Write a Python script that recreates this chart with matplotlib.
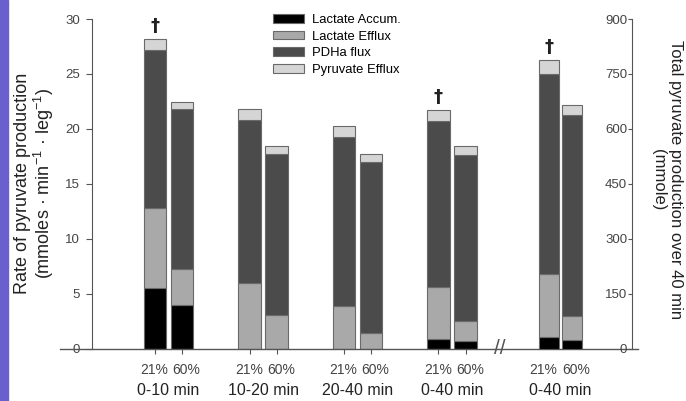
import numpy as np
import matplotlib
matplotlib.use('Agg')
import matplotlib.pyplot as plt
from matplotlib.patches import Patch, Rectangle
from matplotlib.transforms import blended_transform_factory

plt.rcParams['font.family'] = ['Liberation Sans', 'DejaVu Sans']
plt.rcParams['mathtext.fontset'] = 'custom'
plt.rcParams['mathtext.rm'] = 'Liberation Sans'
plt.rcParams['mathtext.it'] = 'Liberation Sans:italic'

# rate of pyruvate production (mmoles/min/leg), bars ordered 21%, 60% per period
groups = ['0-10 min', '10-20 min', '20-40 min', '0-40 min']
conditions = ['21%', '60%']
lactate_accum = [5.47, 4.0, 0, 0, 0, 0, 0.86, 0.68]
lactate_efflux = [7.28, 3.23, 5.98, 3.05, 3.86, 1.38, 4.7, 1.82]
pdha_flux = [14.41, 14.57, 14.79, 14.65, 15.44, 15.62, 15.14, 15.1]
pyruvate_efflux = [1.0, 0.64, 1.0, 0.7, 1.0, 0.7, 1.05, 0.8]
rate_dagger = [True, False, False, False, False, False, True, False]

# total pyruvate production over 40 min (mmole), right axis
total_group = '0-40 min'
total_lactate_accum = [32, 23]
total_lactate_efflux = [171, 66]
total_pdha_flux = [547, 549]
total_pyruvate_efflux = [38, 27]
total_dagger = [True, False]

components = ['Lactate Accum.', 'Lactate Efflux', 'PDHa flux', 'Pyruvate Efflux']
colors = ['#000000', '#a9a9a9', '#4b4b4b', '#d5d5d5']
edge = '#6a6a6a'

W, H = 686, 401
fig = plt.figure(figsize=(W / 100, H / 100), dpi=100)
fig.patches.append(Rectangle((0, 0), 7.5 / W, 1, transform=fig.transFigure,
                             color='#6a5fce', zorder=0))

ax = fig.add_axes([92 / W, 1 - 348.5 / H, 540 / W, 329.5 / H])
ax.set_xlim(-0.81, 4.905)
ax.set_ylim(0, 30)

group_pos = np.arange(len(groups))
total_pos = 4.15
off = 0.143
width = 0.235
rate_x = np.repeat(group_pos, 2) + np.tile([-off, off], len(groups))
rate_label_x = np.repeat(group_pos, 2) + np.tile([-0.15, 0.19], len(groups))
total_x = total_pos + np.array([-off * 0.85, off * 0.85])
total_label_x = total_pos + np.array([-0.185, 0.165])

rate_parts = [lactate_accum, lactate_efflux, pdha_flux, pyruvate_efflux]
total_parts = [total_lactate_accum, total_lactate_efflux, total_pdha_flux, total_pyruvate_efflux]

bottom = np.zeros(len(rate_x))
for vals, c in zip(rate_parts, colors):
    ax.bar(rate_x, vals, width, bottom=bottom, color=c, edgecolor=edge, linewidth=0.8, zorder=3)
    bottom += np.array(vals)
for x, top, d in zip(rate_x, bottom, rate_dagger):
    if d:
        ax.text(x, top + 0.35, '\u2020', ha='center', va='bottom', fontsize=13,
                fontweight='bold', color='#222222', family=['DejaVu Sans'])

ax2 = ax.twinx()
ax2.set_ylim(0, 900)
tbottom = np.zeros(2)
for vals, c in zip(total_parts, colors):
    ax2.bar(total_x, vals, width * 0.9, bottom=tbottom, color=c, edgecolor=edge, linewidth=0.8, zorder=3)
    tbottom += np.array(vals)
for x, top, d in zip(total_x, tbottom, total_dagger):
    if d:
        ax2.text(x, top + 10, '\u2020', ha='center', va='bottom', fontsize=13,
                 fontweight='bold', color='#222222', family=['DejaVu Sans'])

# spines and ticks
for s in ['top', 'right', 'bottom']:
    ax.spines[s].set_visible(False)
for s in ['top', 'left', 'bottom']:
    ax2.spines[s].set_visible(False)
ax.spines['left'].set_color('#555555')
ax2.spines['right'].set_color('#555555')
ax.plot([-0.06, 1.012], [0, 0], transform=ax.transAxes, color='#555555', lw=1, clip_on=False, zorder=5)

ax.set_yticks(np.arange(0, 31, 5))
ax.tick_params(axis='y', direction='out', length=4.5, width=0.8, color='#555555',
               labelsize=9.5, labelcolor='#444444', pad=4)
ax2.set_yticks(np.arange(0, 901, 150))
ax2.tick_params(axis='y', direction='in', length=3, width=0.8, color='#555555',
                labelsize=9.5, labelcolor='#444444', pad=-3.5)
for t in ax2.yaxis.get_major_ticks():
    t.label2.set_horizontalalignment('right')

# tick marks under the rate bars, condition labels as minor ticks
ax.set_xticks(rate_x)
ax.set_xticklabels([''] * len(rate_x))
ax.set_xticks(list(rate_label_x) + list(total_label_x), minor=True)
ax.set_xticklabels(conditions * (len(groups) + 1), minor=True)
ax.tick_params(axis='x', which='major', direction='out', length=3.6, width=0.8, color='#555555')
ax.tick_params(axis='x', which='minor', length=0, labelsize=10, labelcolor='#444444', pad=10.5)

trans = blended_transform_factory(ax.transData, fig.transFigure)
for g, x in zip(groups + [total_group], list(group_pos) + [total_pos]):
    ax.text(x, 0.025, g, transform=trans, ha='center', va='center', fontsize=11.5, color='#222222')

# axis break mark
break_x = 3.51
ax.text(break_x, 0, '//', ha='center', va='center', fontsize=15, color='#555555',
        clip_on=False, zorder=6)

fig.text(35 / W, 1 - 183 / H,
         'Rate of pyruvate production\n(mmoles \u00b7 min$^{-1}$ \u00b7 leg$^{-1}$)',
         rotation=90, ha='center', va='center', multialignment='center', fontsize=13,
         color='#222222', linespacing=1.1)
fig.text(667 / W, 1 - 180 / H, 'Total pyruvate production over 40 min\n(mmole)',
         rotation=270, ha='center', va='center', multialignment='center', fontsize=12, color='#222222')

handles = [Patch(facecolor=c, edgecolor=edge, linewidth=0.8) for c in colors]
ax.legend(handles, components, loc='upper left', bbox_to_anchor=(273 / W, 1 - 14 / H),
          bbox_transform=fig.transFigure, frameon=False, fontsize=9.4, handlelength=2.35,
          handleheight=0.65, handletextpad=0.6, labelspacing=0.36, borderpad=0, borderaxespad=0)

fig.savefig('out.png', dpi=100)
